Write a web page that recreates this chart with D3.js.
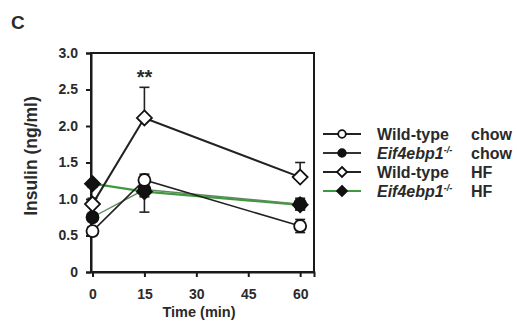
<!DOCTYPE html>
<html>
<head>
<meta charset="utf-8">
<script src="https://cdn.jsdelivr.net/npm/d3@7"></script>
<style>
  body { margin: 0; background: #fff; }
  text { font-family: "Liberation Sans", Arial, sans-serif; font-weight: bold; fill: #2a2a2a; }
</style>
</head>
<body>
<svg id="chart" width="517" height="326"></svg>
<script>
// values
const timePoints = [0, 15, 60]
const xTicks = [0, 15, 30, 45, 60]
const yTicks = [0, 0.5, 1.0, 1.5, 2.0, 2.5, 3.0]
const seriesNames = ['Wild-type', 'Eif4ebp1', 'Wild-type', 'Eif4ebp1']
const dietNames = ['chow', 'chow', 'HF', 'HF']
const wtChow = [0.56, 1.26, 0.63]
const wtChowErr = [0.06, 0.08, 0.09]
const koChow = [0.75, 1.13, 0.93]
const koChowErr = [0.05, 0.1, 0.08]
const wtHF = [0.93, 2.11, 1.30]
const wtHFErr = [0.08, 0.42, 0.2]
const koHF = [1.21, 1.10, 0.92]
const koHFErr = [0.05, 0.28, 0.07]

const svg = d3.select('#chart')
const margin = { top: 53, left: 91, right: 314, bottom: 272 }

const x = d3.scaleLinear().domain([0, 64]).range([margin.left + 1.5, margin.right])
const y = d3.scaleLinear().domain([0, 3]).range([margin.bottom, margin.top])

// series table (draw order: filled under open)
const series = [
    { vals: koHF, err: koHFErr, dir: 'down', shape: 'diamond', fill: '#111', line: '#3f9a3f', lw: 2.2 },
    { vals: koChow, err: koChowErr, dir: 'both', shape: 'circle', fill: '#111', line: '#5d8a5d', lw: 1.4 },
    { vals: wtChow, err: wtChowErr, dir: 'both', shape: 'circle', fill: '#fff', line: '#222', lw: 1.6 },
    { vals: wtHF, err: wtHFErr, dir: 'up', shape: 'diamond', fill: '#fff', line: '#222', lw: 2 }
]

// frame
svg.append('rect')
    .attr('x', margin.left).attr('y', margin.top)
    .attr('width', margin.right - margin.left).attr('height', margin.bottom - margin.top)
    .attr('fill', 'none').attr('stroke', '#1a1a1a').attr('stroke-width', 2)

// axes
const xAxis = d3.axisBottom(x).tickValues(xTicks).tickSize(5).tickPadding(12).tickFormat(d3.format('d'))
const yAxis = d3.axisLeft(y).tickValues(yTicks).tickSize(5).tickPadding(8)
    .tickFormat(d => d === 0 ? '0' : d3.format('.1f')(d))

const gx = svg.append('g').attr('transform', 'translate(0,' + margin.bottom + ')').call(xAxis)
const gy = svg.append('g').attr('transform', 'translate(' + margin.left + ',0)').call(yAxis)
for (const g of [gx, gy]) {
    g.select('.domain').attr('stroke', '#1a1a1a').attr('stroke-width', 2)
    g.selectAll('.tick line').attr('stroke', '#1a1a1a').attr('stroke-width', 2)
    g.selectAll('.tick text').style('font-size', '14px').style('font-family', '"Liberation Sans", Arial, sans-serif').attr('fill', '#2a2a2a')
}

// axis labels
svg.append('text')
    .attr('transform', 'translate(37,156) rotate(-90)')
    .attr('text-anchor', 'middle')
    .style('font-size', '17.5px')
    .text('Insulin (ng/ml)')

svg.append('text')
    .attr('x', 199).attr('y', 317)
    .attr('text-anchor', 'middle')
    .style('font-size', '14.5px')
    .text('Time (min)')

svg.append('text')
    .attr('x', 11).attr('y', 29)
    .style('font-size', '19px')
    .text('C')

svg.append('text')
    .attr('x', x(15)).attr('y', 84)
    .attr('text-anchor', 'middle')
    .style('font-size', '20px')
    .text('**')

function drawMarker(g, shape, cx, cy, fill) {
    if (shape === 'circle') {
        g.append('circle').attr('cx', cx).attr('cy', cy).attr('r', 6)
            .attr('fill', fill).attr('stroke', '#111').attr('stroke-width', 1.8)
    } else {
        const s = 7.5
        g.append('path')
            .attr('d', `M${cx},${cy - s}L${cx + s},${cy}L${cx},${cy + s}L${cx - s},${cy}Z`)
            .attr('fill', fill).attr('stroke', '#111').attr('stroke-width', 1.8)
    }
}

const line = d3.line().x((d, i) => x(timePoints[i])).y(d => y(d))

const plot = svg.append('g')
// error bars first
series.forEach(s => {
    s.vals.forEach((v, i) => {
        const top = s.dir === 'down' ? v : v + s.err[i]
        const bot = s.dir === 'up' ? v : v - s.err[i]
        const cx = x(timePoints[i])
        plot.append('line').attr('x1', cx).attr('x2', cx).attr('y1', y(top)).attr('y2', y(bot))
            .attr('stroke', '#222').attr('stroke-width', 1.6)
        if (s.dir !== 'down')
            plot.append('line').attr('x1', cx - 5).attr('x2', cx + 5).attr('y1', y(top)).attr('y2', y(top))
                .attr('stroke', '#222').attr('stroke-width', 1.6)
        if (s.dir !== 'up')
            plot.append('line').attr('x1', cx - 5).attr('x2', cx + 5).attr('y1', y(bot)).attr('y2', y(bot))
                .attr('stroke', '#222').attr('stroke-width', 1.6)
    })
})
series.forEach(s => {
    plot.append('path').datum(s.vals).attr('d', line)
        .attr('fill', 'none').attr('stroke', s.line).attr('stroke-width', s.lw)
})
series.forEach(s => {
    s.vals.forEach((v, i) => drawMarker(plot, s.shape, x(timePoints[i]), y(v), s.fill))
})

// legend
const legendRows = [series[2], series[1], series[3], series[0]]
const legendY = [134, 153, 172, 191]
const leg = svg.append('g')
legendRows.forEach((s, i) => {
    const ly = legendY[i]
    leg.append('line').attr('x1', 323).attr('x2', 361).attr('y1', ly).attr('y2', ly)
        .attr('stroke', i === 1 ? '#333' : s.line).attr('stroke-width', 2)
    if (s.shape === 'circle') {
        leg.append('circle').attr('cx', 342).attr('cy', ly).attr('r', 3.8)
            .attr('fill', s.fill).attr('stroke', '#111').attr('stroke-width', 1.8)
    } else {
        const d = 5
        leg.append('path').attr('d', `M342,${ly - d}L${342 + d},${ly}L342,${ly + d}L${342 - d},${ly}Z`)
            .attr('fill', s.fill).attr('stroke', '#111').attr('stroke-width', 1.8)
    }
    const t = leg.append('text').attr('x', 377).attr('y', ly + 6).style('font-size', '16px')
    const ko = seriesNames[i] === 'Eif4ebp1'
    if (ko) {
        t.append('tspan').style('font-style', 'italic').text(seriesNames[i])
        t.append('tspan').attr('dy', -6).style('font-size', '9px').style('font-style', 'italic').text('-/-')
    } else {
        t.text(seriesNames[i])
    }
    leg.append('text').attr('x', 471).attr('y', ly + 6).style('font-size', '16px').text(dietNames[i])
})
</script>
</body>
</html>
